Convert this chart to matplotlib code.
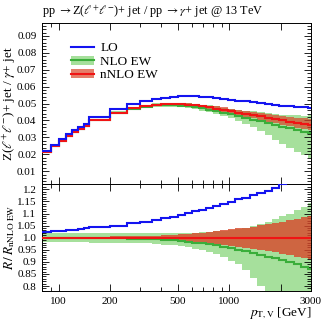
import matplotlib
matplotlib.use("Agg")
import matplotlib.pyplot as plt
import numpy as np
from matplotlib.lines import Line2D
from matplotlib.patches import Patch
from matplotlib.ticker import FixedLocator, FixedFormatter, MultipleLocator, NullFormatter

plt.rcParams['font.family'] = ['Liberation Serif', 'DejaVu Serif']
plt.rcParams['mathtext.fontset'] = 'stix'

# bin edges in pT,V [GeV]
edges = [80, 90, 100, 110, 120, 130, 140, 150, 200, 250, 300, 350, 400, 450, 500,
         550, 600, 660, 725, 800, 885, 980, 1080, 1190, 1320, 1455, 1605, 1770,
         1950, 2150, 2375, 2620, 2890, 3180]

lo = [0.0220, 0.0256, 0.0288, 0.0318, 0.0341, 0.0362, 0.0382, 0.0419, 0.0468,
      0.0499, 0.0517, 0.0528, 0.0535, 0.0539, 0.0542, 0.0543, 0.0542, 0.0539,
      0.0536, 0.0532, 0.0527, 0.0522, 0.0518, 0.0513, 0.0508, 0.0502, 0.0497,
      0.0492, 0.0488, 0.0484, 0.0480, 0.0477, 0.0474]

nlo = [0.02148, 0.02488, 0.02797, 0.03077, 0.03297, 0.03487, 0.03676, 0.04012,
       0.04447, 0.04691, 0.04826, 0.04886, 0.04905, 0.04905, 0.04881, 0.04846,
       0.04792, 0.04719, 0.04641, 0.04550, 0.04459, 0.04354, 0.04251, 0.04154,
       0.04048, 0.03943, 0.03836, 0.03729, 0.03624, 0.03529, 0.03432, 0.03340,
       0.03259]

nnlo = [0.0215, 0.0249, 0.0280, 0.0308, 0.0330, 0.0349, 0.0368, 0.0402, 0.0446,
        0.0471, 0.0485, 0.0492, 0.0495, 0.0496, 0.0495, 0.0493, 0.0489, 0.0483,
        0.0477, 0.0470, 0.0463, 0.0455, 0.0447, 0.0440, 0.0432, 0.0424, 0.0416,
        0.0408, 0.0400, 0.0393, 0.0386, 0.0380, 0.0375]

# nNLO EW relative uncertainty (symmetric)
nnlo_unc = [0.004, 0.004, 0.004, 0.004, 0.004, 0.004, 0.004, 0.004, 0.005, 0.006,
            0.007, 0.008, 0.010, 0.012, 0.014, 0.016, 0.018, 0.021, 0.024, 0.027,
            0.030, 0.034, 0.038, 0.042, 0.046, 0.051, 0.056, 0.061, 0.066, 0.072,
            0.078, 0.084, 0.090]

# NLO EW band, relative to nNLO EW
nlo_band_up = [1.018, 1.018, 1.018, 1.018, 1.018, 1.018, 1.018, 1.018, 1.018, 1.018,
               1.018, 1.018, 1.018, 1.018, 1.019, 1.020, 1.021, 1.023, 1.025, 1.027,
               1.029, 1.032, 1.036, 1.042, 1.050, 1.058, 1.066, 1.076, 1.088, 1.100,
               1.113, 1.128, 1.145]
nlo_band_dn = [0.981, 0.981, 0.981, 0.981, 0.981, 0.981, 0.981, 0.980, 0.979, 0.978,
               0.976, 0.974, 0.971, 0.968, 0.964, 0.960, 0.955, 0.948, 0.940, 0.931,
               0.921, 0.905, 0.890, 0.865, 0.835, 0.800, 0.750, 0.700, 0.650, 0.600,
               0.560, 0.520, 0.480]

xticks = [100, 200, 500, 1000, 2000, 3000]
xticklabels = ['100', '200', '500', '1000', '', '3000']
xminor = [90, 300, 400, 600, 700, 800, 900]

c_lo = '#1414f0'
c_nlo = '#3aae3a'
c_nnlo = '#f01414'
c_nlo_band = '#a6e09c'
c_nnlo_band = '#d9472b'

e = np.array(edges, float)
lo_a = np.array(lo)
nlo_a = np.array(nlo)
nnlo_a = np.array(nnlo)
unc = np.array(nnlo_unc)
bup = np.array(nlo_band_up)
bdn = np.array(nlo_band_dn)

fig = plt.figure(figsize=(3.24, 3.25), dpi=100)
L, R = 42 / 324, 311 / 324
ax1 = fig.add_axes([L, 1 - 184 / 325, R - L, (184 - 23.3) / 325])
ax2 = fig.add_axes([L, 1 - 291 / 325, R - L, (291 - 184) / 325], sharex=ax1)

lw = 1.5
# top panel
ax1.stairs(nnlo_a * bup, e, baseline=nnlo_a * bdn, fill=True, color=c_nlo_band, lw=0, zorder=1)
ax1.stairs(nnlo_a * (1 + unc), e, baseline=nnlo_a * (1 - unc), fill=True, color=c_nnlo_band,
           alpha=0.7, lw=0, zorder=2)
ax1.stairs(nlo_a, e, color=c_nlo, lw=lw, zorder=3, baseline=None)
ax1.stairs(nnlo_a, e, color=c_nnlo, lw=lw, zorder=4, baseline=None)
ax1.stairs(lo_a, e, color=c_lo, lw=lw, zorder=5, baseline=None)

# bottom panel: ratios to nNLO EW
ax2.stairs(bup, e, baseline=bdn, fill=True, color=c_nlo_band, lw=0, zorder=1)
ax2.stairs(1 + unc, e, baseline=1 - unc, fill=True, color=c_nnlo_band, alpha=0.8, lw=0, zorder=2)
ax2.stairs(nlo_a / nnlo_a, e, color=c_nlo, lw=lw, zorder=3, baseline=None)
ax2.stairs(nnlo_a / nnlo_a, e, color=c_nnlo, lw=lw, zorder=4, baseline=None)
ax2.stairs(lo_a / nnlo_a, e, color=c_lo, lw=lw, zorder=5, baseline=None)

ax1.set_xscale('log')
ax1.set_xlim(80, 3000)
ax1.set_ylim(0.0024, 0.0975)
ax2.set_ylim(0.7795, 1.222)

for ax in (ax1, ax2):
    ax.xaxis.set_major_locator(FixedLocator(xticks))
    ax.xaxis.set_minor_locator(FixedLocator(xminor))
    ax.xaxis.set_minor_formatter(NullFormatter())
    ax.tick_params(which='both', direction='in', top=True, right=True, width=0.6,
                   labelsize=8, pad=4)
    ax.tick_params(which='major', length=5)
    ax.tick_params(which='minor', length=3)
    for s in ax.spines.values():
        s.set_linewidth(0.7)

ax1.xaxis.set_major_formatter(NullFormatter())
ax1.tick_params(labelbottom=False)
ax2.xaxis.set_major_formatter(FixedFormatter(xticklabels))

ax1.yaxis.set_major_locator(FixedLocator([0.01, 0.02, 0.03, 0.04, 0.05, 0.06, 0.07, 0.08, 0.09]))
ax1.yaxis.set_major_formatter(FixedFormatter(['0.01', '0.02', '0.03', '0.04', '0.05', '0.06',
                                              '0.07', '0.08', '0.09']))
ax1.yaxis.set_minor_locator(MultipleLocator(0.002))
ax2.yaxis.set_major_locator(FixedLocator([0.8, 0.85, 0.9, 0.95, 1.0, 1.05, 1.1, 1.15, 1.2]))
ax2.yaxis.set_major_formatter(FixedFormatter(['0.8', '0.85', '0.9', '0.95', '1.0', '1.05',
                                              '1.1', '1.15', '1.2']))
ax2.yaxis.set_minor_locator(MultipleLocator(0.01))

ax1.set_ylabel(r'Z($\ell^{+}\ell^{-}$)+ jet / $\gamma$+ jet', fontsize=9.5, va='center')
ax1.yaxis.set_label_coords(-0.122, 0.5)
ax2.set_ylabel(r'$R\,/\,R_{\mathrm{nNLO\ EW}}$', fontsize=9.5, va='center')
ax2.yaxis.set_label_coords(-0.122, 0.5)
ax2.set_xlabel(r'$p_{\mathrm{T,V}}$ [GeV]', fontsize=9.5, ha='right', va='center')
ax2.xaxis.set_label_coords(1.0, -0.205)

fig.text(42 / 324, 1 - 12 / 325,
         r'pp $\rightarrow$Z($\ell^{+}\ell^{-}$)+ jet / pp $\rightarrow\gamma$+ jet @ 13 TeV',
         ha='left', va='center', fontsize=8.8)

handles = [Line2D([], [], color=c_lo, lw=lw),
           (Patch(facecolor=c_nlo_band, lw=0), Line2D([], [], color=c_nlo, lw=lw)),
           (Patch(facecolor=c_nnlo_band, alpha=0.7, lw=0), Line2D([], [], color=c_nnlo, lw=lw))]
ax1.legend(handles, ['LO', 'NLO EW', 'nNLO EW'], loc='upper left',
           bbox_to_anchor=(0.085, 0.925), frameon=False, fontsize=9.5, handlelength=1.7,
           handletextpad=0.5, labelspacing=0.1, borderpad=0)

fig.savefig('out.png', dpi=100)
